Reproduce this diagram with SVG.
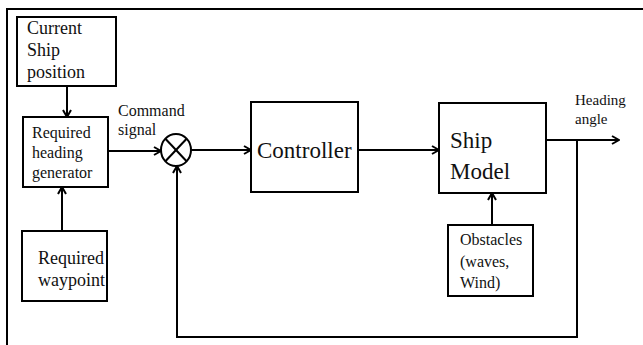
<svg xmlns="http://www.w3.org/2000/svg" width="643" height="345" viewBox="0 0 643 345">
  <style>
    .box { fill: #fff; stroke: #000; stroke-width: 2; }
    .wire { fill: none; stroke: #000; stroke-width: 2; }
    text { font-family: 'Liberation Serif', 'Times New Roman', 'DejaVu Serif', serif; fill: #111; }
    .big { font-size: 23px; }
    .mid { font-size: 18px; }
    .sm { font-size: 16px; }
    .xs { font-size: 15px; }
  </style>
  <defs>
    <marker id="arrow" viewBox="0 0 10 10" refX="9" refY="5" markerWidth="10" markerHeight="10" markerUnits="userSpaceOnUse" orient="auto">
      <polyline points="2,1 9,5 2,9" fill="none" stroke="#000" stroke-width="2"/>
    </marker>
  </defs>

  <rect width="643" height="345" fill="#fff"/>
  <!-- outer frame -->
  <rect x="7" y="9" width="700" height="400" fill="none" stroke="#000" stroke-width="2"/>

  <g font-family="Liberation Serif, Times New Roman, serif">
  <g id="current-position">
    <rect class="box" x="17" y="17" width="99" height="69"/>
    <text class="mid" x="27" y="34">Current</text>
    <text class="mid" x="27" y="56">Ship</text>
    <text class="mid" x="27" y="78">position</text>
  </g>

  <g id="heading-generator">
    <rect class="box" x="23" y="117" width="85" height="70"/>
    <text class="sm" x="32" y="138">Required</text>
    <text class="sm" x="32" y="158">heading</text>
    <text class="sm" x="32" y="178">generator</text>
  </g>

  <g id="waypoint">
    <rect class="box" x="22" y="231" width="85" height="70"/>
    <text class="mid" x="38" y="264">Required</text>
    <text class="mid" x="38" y="286">waypoint</text>
  </g>

  <g id="summing-junction">
    <ellipse cx="176" cy="150" rx="15" ry="16" fill="#fff" stroke="#000" stroke-width="2"/>
    <line x1="165.4" y1="138.7" x2="186.6" y2="161.3" stroke="#000" stroke-width="2"/>
    <line x1="186.6" y1="138.7" x2="165.4" y2="161.3" stroke="#000" stroke-width="2"/>
  </g>

  <g id="controller">
    <rect class="box" x="251" y="102" width="107" height="90"/>
    <text class="big" x="257" y="158">Controller</text>
  </g>

  <g id="ship-model">
    <rect class="box" x="439" y="103" width="107" height="90"/>
    <text class="big" x="450" y="148">Ship</text>
    <text class="big" x="450" y="179">Model</text>
  </g>

  <g id="obstacles">
    <rect class="box" x="448" y="225" width="85" height="71"/>
    <text class="sm" x="460" y="245">Obstacles</text>
    <text class="sm" x="460" y="267">(waves,</text>
    <text class="sm" x="460" y="288">Wind)</text>
  </g>

  <g id="labels">
    <text class="sm" x="118" y="116">Command</text>
    <text class="sm" x="118" y="135">signal</text>
    <text class="xs" x="575" y="105">Heading</text>
    <text class="xs" x="575" y="124">angle</text>
  </g>
  </g>

  <g id="connectors">
    <line class="wire" x1="67" y1="86" x2="67" y2="117" marker-end="url(#arrow)"/>
    <line class="wire" x1="62" y1="231" x2="62" y2="187" marker-end="url(#arrow)"/>
    <line class="wire" x1="108" y1="151" x2="161" y2="151" marker-end="url(#arrow)"/>
    <line class="wire" x1="191" y1="150" x2="251" y2="150" marker-end="url(#arrow)"/>
    <line class="wire" x1="358" y1="150" x2="439" y2="150" marker-end="url(#arrow)"/>
    <line class="wire" x1="492" y1="225" x2="492" y2="193" marker-end="url(#arrow)"/>
    <line class="wire" x1="546" y1="140" x2="619" y2="140" marker-end="url(#arrow)"/>
    <polyline class="wire" points="577,140 577,337 177,337 177,166" marker-end="url(#arrow)"/>
  </g>
</svg>
